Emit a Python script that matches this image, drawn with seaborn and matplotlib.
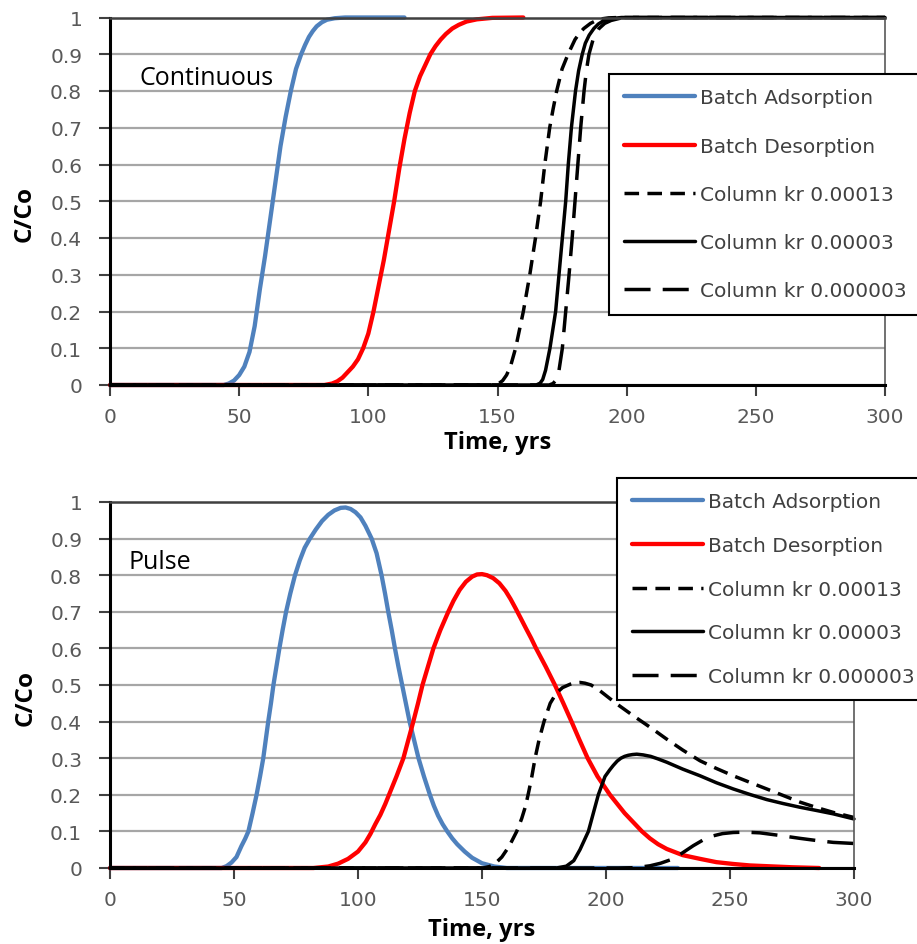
import matplotlib
matplotlib.use('Agg')
import matplotlib.pyplot as plt
import seaborn as sns

# ---- values ----
x_ticks = [0, 50, 100, 150, 200, 250, 300]
y_ticks = [0, 0.1, 0.2, 0.3, 0.4, 0.5, 0.6, 0.7, 0.8, 0.9, 1]
y_tick_labels = ['0', '0.1', '0.2', '0.3', '0.4', '0.5', '0.6', '0.7', '0.8', '0.9', '1']

labels = ['Batch Adsorption', 'Batch Desorption', 'Column kr 0.00013',
          'Column kr 0.00003', 'Column kr 0.000003']

# continuous source (top panel)
cont_ads_t = [0, 44, 46, 48, 50, 52, 54, 56, 58, 60, 62, 64, 66, 68, 70, 72, 74, 75.5, 77, 78.5, 80,
              82, 84, 87, 91, 114]
cont_ads_c = [0, 0, 0.004, 0.012, 0.027, 0.05, 0.09, 0.16, 0.26, 0.35, 0.45, 0.55, 0.65, 0.73, 0.8,
              0.86, 0.9, 0.925, 0.947, 0.963, 0.976, 0.987, 0.994, 0.998, 1, 1]

cont_des_t = [0, 83, 86, 88, 90, 92, 94, 96, 98, 100, 102, 104, 106, 108, 110, 112, 114, 116, 118,
              120, 122, 124, 126, 128, 130, 132.5, 135, 138, 142, 148, 160]
cont_des_c = [0, 0, 0.004, 0.01, 0.02, 0.035, 0.05, 0.07, 0.1, 0.14, 0.2, 0.27, 0.34, 0.42, 0.5,
              0.59, 0.67, 0.74, 0.8, 0.84, 0.87, 0.9, 0.922, 0.94, 0.955, 0.97, 0.98, 0.989,
              0.995, 0.999, 1]

cont_k1_t = [0, 148.5, 150.5, 152, 153.5, 155, 157, 158.5, 160, 162.5, 164.7, 166.7, 168.3, 170.2,
             171.5, 172.9, 175, 177.3, 180, 181.7, 183.4, 186, 188, 190, 193, 197, 300]
cont_k1_c = [0, 0, 0.004, 0.012, 0.027, 0.05, 0.1, 0.15, 0.2, 0.3, 0.4, 0.5, 0.6, 0.7, 0.75, 0.8,
             0.86, 0.9, 0.94, 0.957, 0.97, 0.984, 0.991, 0.996, 0.999, 1, 1]

cont_k2_t = [0, 165, 166.5, 167.5, 168.6, 170.3, 172.5, 173.8, 175.1, 176.4, 177.4, 178.6, 180.2,
             181.4, 182.8, 184, 185.5, 187.3, 189, 191, 194, 198, 300]
cont_k2_c = [0, 0, 0.005, 0.015, 0.04, 0.1, 0.2, 0.3, 0.4, 0.5, 0.6, 0.7, 0.8, 0.855, 0.9, 0.93,
             0.952, 0.97, 0.982, 0.991, 0.997, 1, 1]

cont_k3_t = [0, 170, 171.5, 172.5, 173.7, 175.1, 176.4, 177.7, 178.9, 180, 181.1, 182.2, 183.5,
             184.4, 185.4, 187, 189.3, 191.5, 194, 197.5, 202, 300]
cont_k3_c = [0, 0, 0.004, 0.012, 0.035, 0.1, 0.2, 0.3, 0.4, 0.5, 0.6, 0.7, 0.8, 0.855, 0.9, 0.94,
             0.97, 0.984, 0.992, 0.998, 1, 1]

# pulse source (bottom panel)
pulse_ads_t = [0, 45, 47, 49, 51, 53, 54.5, 55.8, 57.5, 59.1, 60.5, 61.8, 62.8, 63.8, 64.9, 65.9,
               67.1, 68.3, 69.6, 71, 72.7, 74.6, 76.5, 78.5, 80.6, 83, 85.5, 88, 90.5, 93, 95, 97,
               99, 101, 103, 105.5, 107.5, 109.5, 110.9, 112.2, 113.6, 114.9, 116.3, 117.8, 119.3,
               120.8, 122.6, 124.4, 126.6, 129, 130.6, 132.3, 134.1, 136, 138, 140, 143, 146, 150,
               155, 160, 229]
pulse_ads_c = [0, 0, 0.005, 0.015, 0.03, 0.06, 0.08, 0.1, 0.15, 0.2, 0.25, 0.3, 0.35, 0.4, 0.45,
               0.5, 0.55, 0.6, 0.65, 0.7, 0.75, 0.8, 0.84, 0.875, 0.9, 0.925, 0.948, 0.965, 0.977,
               0.984, 0.985, 0.981, 0.972, 0.958, 0.935, 0.9, 0.86, 0.8, 0.75, 0.7, 0.65, 0.6,
               0.55, 0.5, 0.45, 0.4, 0.35, 0.3, 0.25, 0.2, 0.17, 0.143, 0.12, 0.1, 0.081, 0.065,
               0.045, 0.028, 0.013, 0.004, 0, 0]

pulse_des_t = [0, 82, 88, 92, 96, 100, 103, 105, 107, 109, 111, 112.5, 115.5, 118.3, 120.3, 122.3,
               124.2, 126, 128.2, 130.4, 133.2, 136.4, 138.5, 141, 143.5, 146, 148, 150, 152, 154.5,
               157, 159.5, 161.5, 163.5, 165.5, 167.7, 169.8, 171.8, 175.7, 179.4, 182.8, 186.1,
               189.3, 192.6, 196.6, 201.6, 207.5, 214.5, 217.7, 221, 224.5, 231, 237.9, 244.5,
               251.3, 258, 264.8, 275, 286]
pulse_des_c = [0, 0, 0.004, 0.012, 0.025, 0.045, 0.07, 0.093, 0.12, 0.145, 0.175, 0.2, 0.25, 0.3,
               0.35, 0.4, 0.45, 0.5, 0.55, 0.6, 0.65, 0.7, 0.73, 0.76, 0.782, 0.796, 0.802, 0.803,
               0.8, 0.792, 0.778, 0.757, 0.735, 0.71, 0.684, 0.655, 0.628, 0.6, 0.55, 0.5, 0.45,
               0.4, 0.35, 0.3, 0.25, 0.2, 0.15, 0.1, 0.081, 0.065, 0.052, 0.035, 0.025, 0.016,
               0.011, 0.007, 0.005, 0.002, 0]

pulse_k1_t = [0, 150.5, 153, 155, 158, 161, 164, 166, 167.6, 168.9, 170.1, 171.4, 173, 175, 177.5,
              180, 182.5, 185.5, 187.5, 189.5, 191.5, 194, 197.6, 204, 211, 217.7, 224.5, 231,
              237.9, 244.5, 251.3, 258, 264.8, 271.5, 278.2, 285, 291.6, 300]
pulse_k1_c = [0, 0, 0.004, 0.01, 0.03, 0.06, 0.1, 0.135, 0.17, 0.21, 0.25, 0.3, 0.35, 0.4, 0.45,
              0.478, 0.493, 0.502, 0.506, 0.507, 0.505, 0.5, 0.484, 0.45, 0.416, 0.385, 0.352,
              0.322, 0.293, 0.272, 0.252, 0.234, 0.216, 0.198, 0.18, 0.165, 0.152, 0.138]

pulse_k2_t = [0, 180, 184, 187, 189.5, 191.2, 192.9, 194.9, 196.9, 199.6, 201.5, 202.9, 204.5, 206,
              207.5, 209, 210.7, 212.4, 215, 218, 221, 224.5, 231, 237.9, 244.5, 251.3, 258,
              264.8, 271.5, 278.2, 285, 291.6, 300]
pulse_k2_c = [0, 0, 0.005, 0.02, 0.05, 0.075, 0.1, 0.15, 0.2, 0.25, 0.268, 0.28, 0.292, 0.3, 0.305,
              0.308, 0.31, 0.311, 0.309, 0.305, 0.298, 0.289, 0.27, 0.252, 0.233, 0.216, 0.201,
              0.187, 0.176, 0.166, 0.157, 0.148, 0.134]

pulse_k3_t = [0, 205, 212, 217.7, 222, 227.1, 231, 235.2, 239, 243.3, 247, 251.3, 256, 262.1, 270,
              278.2, 285, 291.6, 300]
pulse_k3_c = [0, 0, 0.001, 0.006, 0.013, 0.025, 0.042, 0.061, 0.076, 0.088, 0.094, 0.097, 0.098,
              0.096, 0.089, 0.081, 0.075, 0.07, 0.067]

# ---- style ----
sns.set_style('white')
plt.rcParams['font.family'] = ['Open Sans', 'DejaVu Sans']
LABEL_FONT = ['DejaVu Sans']  # legend and tick text is wide in the original

BLUE = '#4f81bd'
RED = '#ff0000'
styles = [
    (BLUE, 3.1, '-'),
    (RED, 3.1, '-'),
    ('black', 2.5, (0, (4.2, 2.4))),
    ('black', 2.5, '-'),
    ('black', 2.5, (0, (7.5, 3.5))),
]

W, H = 917, 945
fig = plt.figure(figsize=(W / 100, H / 100), dpi=100)
ax_top = fig.add_axes([110 / W, 1 - 386 / H, 775 / W, 367.5 / H])
ax_bot = fig.add_axes([110 / W, 1 - 869 / H, 744 / W, 366 / H])


def draw_panel(ax, curves, note, note_x, legend_xy, spacing, xlab_y, ylab_x):
    for (t, c), lab, (col, lw, ls) in zip(curves, labels, styles):
        sns.lineplot(x=t, y=c, ax=ax, color=col, linewidth=lw, linestyle=ls,
                     label=lab, sort=False, clip_on=False, solid_joinstyle='round')

    ax.set_xlim(0, 300)
    ax.set_ylim(0, 1)
    ax.set_xticks(x_ticks)
    ax.set_yticks(y_ticks, y_tick_labels)
    ax.set_axisbelow(True)
    ax.yaxis.grid(True, color='#a6a6a6', linewidth=1.6)
    ax.xaxis.grid(False)

    for side in ['left', 'bottom']:
        ax.spines[side].set_color('black')
        ax.spines[side].set_linewidth(2.2)
    ax.spines['top'].set_color('#404040')
    ax.spines['top'].set_linewidth(1.8)
    ax.spines['right'].set_color('#595959')
    ax.spines['right'].set_linewidth(1.2)

    ax.tick_params(direction='out', length=8, width=1.5, color='#404040',
                   labelsize=14.5, labelcolor='#595959', left=True, bottom=True)
    ax.tick_params(axis='y', pad=12)
    ax.tick_params(axis='x', pad=8)
    for lbl in ax.get_xticklabels() + ax.get_yticklabels():
        lbl.set_family(LABEL_FONT)

    ax.set_xlabel('Time, yrs', fontsize=17, fontweight='bold', color='black')
    ax.set_ylabel('C/Co', fontsize=17.5, fontweight='bold', color='black')
    ax.xaxis.set_label_coords(0.5, xlab_y)
    ax.xaxis.label.set_va('center')
    ax.yaxis.set_label_coords(ylab_x, 0.467)
    ax.yaxis.label.set_va('center')

    ax.text(note_x, 0.837, note, fontsize=18, va='center', ha='left', color='black')

    leg = ax.legend(loc='upper left', bbox_to_anchor=legend_xy, bbox_transform=fig.transFigure,
                    frameon=True, fancybox=False, edgecolor='black', framealpha=1,
                    prop={'family': LABEL_FONT, 'size': 14.5}, labelcolor='#404040',
                    handlelength=3.55, handletextpad=0.25, labelspacing=spacing,
                    borderpad=0.72, borderaxespad=0)
    leg.get_frame().set_linewidth(1.5)


draw_panel(ax_top,
           [(cont_ads_t, cont_ads_c), (cont_des_t, cont_des_c), (cont_k1_t, cont_k1_c),
            (cont_k2_t, cont_k2_c), (cont_k3_t, cont_k3_c)],
           'Continuous', 11.6, (609 / W, 1 - 75 / H), 1.45, -0.155, -0.11)

draw_panel(ax_bot,
           [(pulse_ads_t, pulse_ads_c), (pulse_des_t, pulse_des_c), (pulse_k1_t, pulse_k1_c),
            (pulse_k2_t, pulse_k2_c), (pulse_k3_t, pulse_k3_c)],
           'Pulse', 7.3, (617 / W, 1 - 479 / H), 1.22, -0.167, -0.114)

fig.savefig('out.png', dpi=100)
